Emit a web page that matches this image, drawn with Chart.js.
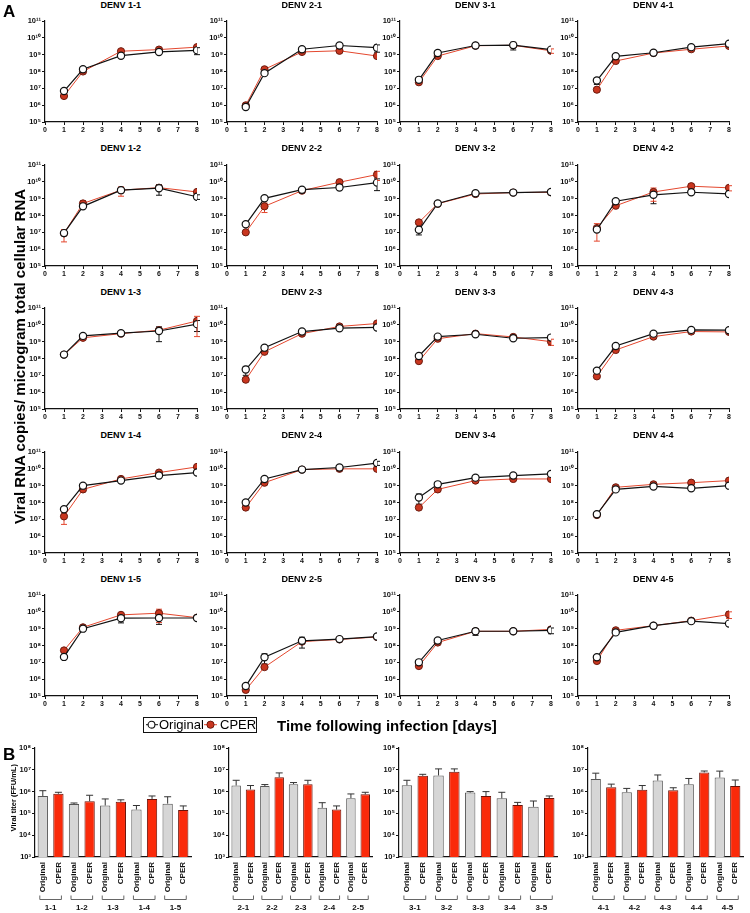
<!DOCTYPE html>
<html><head><meta charset="utf-8">
<script src="https://cdn.jsdelivr.net/npm/chart.js@4.4.1/dist/chart.umd.min.js"></script>
<style>
html,body{margin:0;padding:0;background:#fff;}
body{width:750px;height:913px;position:relative;overflow:hidden;font-family:'Liberation Sans',Arial,sans-serif;color:#000;}
canvas{position:absolute;}
.t{position:absolute;font-weight:bold;white-space:nowrap;line-height:1;}
</style></head><body>
<script>
// ---------- DATA ----------
const days = [1, 2, 4, 6, 8];
const rnaTicks = [1e5, 1e6, 1e7, 1e8, 1e9, 1e10, 1e11];
const rnaTickLabels = ['10⁵', '10⁶', '10⁷', '10⁸', '10⁹', '10¹⁰', '10¹¹'];
const titerTicks = [1e3, 1e4, 1e5, 1e6, 1e7, 1e8];
const titerTickLabels = ['10³', '10⁴', '10⁵', '10⁶', '10⁷', '10⁸'];
const seriesNames = ['Original', 'CPER'];

// Panel A: viral RNA copies (mean) and SD per day
const d11_orig = [6.9e6, 1.35e8, 8.7e8, 1.45e9, 1.8e9], d11_origSD = [0, 0, 0, 0, 8e8];
const d11_cper = [3.5e6, 1.0e8, 1.6e9, 2.0e9, 2.8e9],   d11_cperSD = [0, 0, 0, 0, 0];
const d21_orig = [7.8e5, 8e7, 2.1e9, 3.5e9, 2.6e9],      d21_origSD = [0, 0, 0, 0, 1.2e9];
const d21_cper = [9.8e5, 1.35e8, 1.45e9, 1.7e9, 8.3e8],  d21_cperSD = [0, 0, 0, 0, 0];
const d31_orig = [3.2e7, 1.25e9, 3.5e9, 3.7e9, 2e9],     d31_origSD = [0, 5e8, 0, 1.8e9, 0];
const d31_cper = [2.3e7, 8.3e8, 3.4e9, 3.6e9, 1.7e9],    d31_cperSD = [0, 0, 0, 0, 5e8];
const d41_orig = [2.9e7, 8e8, 1.3e9, 2.8e9, 4.5e9],      d41_origSD = [1.2e7, 0, 0, 0, 0];
const d41_cper = [8.3e6, 4.2e8, 1.25e9, 2.1e9, 3.3e9],   d41_cperSD = [2e6, 0, 0, 0, 0];

const d12_orig = [9e6, 3.5e8, 3.2e9, 4.2e9, 1.3e9],      d12_origSD = [0, 0, 0, 2.6e9, 4e8];
const d12_cper = [8.7e6, 5.2e8, 3.2e9, 4.5e9, 2.5e9],    d12_cperSD = [6e6, 2.5e8, 1.8e9, 0, 0];
const d22_orig = [3e7, 1.05e9, 3.4e9, 4.6e9, 9e9],       d22_origSD = [0, 0, 0, 0, 6e9];
const d22_cper = [1e7, 3.5e8, 3e9, 9.5e9, 2.7e10],       d22_cperSD = [0, 2e8, 0, 0, 1.5e10];
const d32_orig = [1.4e7, 5.2e8, 2.1e9, 2.3e9, 2.5e9],    d32_origSD = [7e6, 0, 0, 0, 0];
const d32_cper = [3.9e7, 5e8, 1.9e9, 2.3e9, 2.4e9],      d32_cperSD = [0, 0, 0, 0, 0];
const d42_orig = [1.45e7, 7e8, 1.7e9, 2.4e9, 1.9e9],     d42_origSD = [0, 0, 1.2e9, 0, 0];
const d42_cper = [1.8e7, 3.8e8, 2.5e9, 5.5e9, 4.4e9],    d42_cperSD = [1.5e7, 0, 1.8e9, 2e9, 1.5e9];

const d13_orig = [1.7e8, 2.2e9, 3.2e9, 4.3e9, 1.1e10],   d13_origSD = [0, 0, 0, 3.3e9, 7e9];
const d13_cper = [1.7e8, 1.7e9, 3e9, 4.8e9, 1.7e10],     d13_cperSD = [0, 0, 0, 0, 1.5e10];
const d23_orig = [2.2e7, 4.4e8, 4e9, 6.3e9, 7e9],        d23_origSD = [1.2e7, 0, 0, 0, 0];
const d23_cper = [5.5e6, 2.5e8, 3e9, 8e9, 1.2e10],       d23_cperSD = [0, 0, 0, 0, 0];
const d33_orig = [1.4e8, 2e9, 2.75e9, 1.6e9, 1.75e9],    d33_origSD = [0, 0, 0, 0, 0];
const d33_cper = [7e7, 1.5e9, 3e9, 1.9e9, 1e9],          d33_cperSD = [0, 0, 0, 0, 4e8];
const d43_orig = [1.9e7, 5.5e8, 3e9, 5e9, 4.8e9],        d43_origSD = [5e6, 0, 0, 0, 0];
const d43_cper = [8.7e6, 3.2e8, 2e9, 4e9, 3.8e9],        d43_cperSD = [0, 0, 0, 0, 0];

const d14_orig = [4e7, 1e9, 2e9, 4e9, 6e9],              d14_origSD = [0, 0, 0, 0, 0];
const d14_cper = [1.5e7, 6e8, 2.5e9, 6e9, 1.3e10],       d14_cperSD = [1e7, 0, 0, 0, 0];
const d24_orig = [1e8, 2.5e9, 9e9, 1.2e10, 2.2e10],      d24_origSD = [0, 0, 0, 4e9, 6e9];
const d24_cper = [5e7, 1.5e9, 9e9, 1e10, 1e10],          d24_cperSD = [0, 0, 0, 0, 0];
const d34_orig = [2e8, 1.2e9, 3e9, 4e9, 5e9],            d34_origSD = [1.2e8, 0, 0, 0, 0];
const d34_cper = [5e7, 6e8, 2e9, 2.5e9, 2.5e9],          d34_cperSD = [0, 0, 0, 0, 0];
const d44_orig = [2e7, 6e8, 9e8, 7e8, 1e9],              d44_origSD = [0, 0, 0, 0, 0];
const d44_cper = [1.8e7, 8e8, 1.2e9, 1.5e9, 2e9],        d44_cperSD = [0, 0, 0, 0, 0];

const d15_orig = [2.1e7, 1e9, 4.2e9, 4.3e9, 4.3e9],      d15_origSD = [0, 0, 2e9, 2.5e9, 0];
const d15_cper = [5.1e7, 1.2e9, 6.6e9, 8.3e9, 4.5e9],    d15_cperSD = [0, 0, 0, 6e9, 0];
const d25_orig = [3.9e5, 2e7, 1.9e8, 2.4e8, 3.4e8],      d25_origSD = [1e5, 1.2e7, 1.2e8, 0, 0];
const d25_cper = [2.3e5, 5.2e6, 1.7e8, 2.3e8, 3.2e8],    d25_cperSD = [0, 0, 0, 0, 0];
const d35_orig = [1e7, 2e8, 7e8, 7e8, 8e8],              d35_origSD = [0, 0, 3e8, 0, 3e8];
const d35_cper = [6e6, 1.5e8, 7e8, 7e8, 9e8],            d35_cperSD = [0, 0, 0, 0, 0];
const d45_orig = [2e7, 6e8, 1.5e9, 2.8e9, 2e9],          d45_origSD = [0, 0, 0, 0, 0];
const d45_cper = [1.2e7, 8e8, 1.5e9, 3e9, 7e9],          d45_cperSD = [0, 0, 0, 0, 3e9];

// Panel B: viral titer (FFU/mL), mean and SD
const titer1_groups = ['1-1', '1-2', '1-3', '1-4', '1-5'];
const titer1_orig = [6.3e5, 2.7e5, 2.3e5, 1.5e5, 2.8e5], titer1_origSD = [4.7e5, 3e4, 2.3e5, 8e4, 3e5];
const titer1_cper = [8e5, 3.6e5, 3.4e5, 4.6e5, 1.45e5],  titer1_cperSD = [1.3e5, 3.2e5, 8e4, 1.7e5, 7.5e4];
const titer2_groups = ['2-1', '2-2', '2-3', '2-4', '2-5'];
const titer2_orig = [1.9e6, 1.8e6, 2.2e6, 1.8e5, 5e5],   titer2_origSD = [1.4e6, 3e5, 4e5, 1.3e5, 2.8e5];
const titer2_cper = [1.25e6, 4.6e6, 2.2e6, 1.5e5, 7.5e5], titer2_cperSD = [6.5e5, 2.6e6, 1.1e6, 7e4, 1.8e5];
const titer3_groups = ['3-1', '3-2', '3-3', '3-4', '3-5'];
const titer3_orig = [1.95e6, 5.5e6, 9e5, 4.9e5, 2e5],    titer3_origSD = [1.35e6, 5.5e6, 1e5, 4.4e5, 1.7e5];
const titer3_cper = [5.3e6, 8.1e6, 6.3e5, 2.4e5, 5.1e5], titer3_cperSD = [9e5, 2.9e6, 3.7e5, 8e4, 1.2e5];
const titer4_groups = ['4-1', '4-2', '4-3', '4-4', '4-5'];
const titer4_orig = [3.8e6, 9.4e5, 3.2e6, 2.2e6, 4.4e6], titer4_origSD = [3.2e6, 4.6e5, 2.6e6, 1.8e6, 4.3e6];
const titer4_cper = [1.6e6, 1.2e6, 1.15e6, 7.6e6, 1.8e6], titer4_cperSD = [6e5, 7e5, 3.5e5, 1.2e6, 1.6e6];

// ---------- TABLES BUILT FROM THE ARRAYS ----------
const linePanels = [
  [d11_orig, d11_origSD, d11_cper, d11_cperSD, 'DENV 1-1'], [d21_orig, d21_origSD, d21_cper, d21_cperSD, 'DENV 2-1'],
  [d31_orig, d31_origSD, d31_cper, d31_cperSD, 'DENV 3-1'], [d41_orig, d41_origSD, d41_cper, d41_cperSD, 'DENV 4-1'],
  [d12_orig, d12_origSD, d12_cper, d12_cperSD, 'DENV 1-2'], [d22_orig, d22_origSD, d22_cper, d22_cperSD, 'DENV 2-2'],
  [d32_orig, d32_origSD, d32_cper, d32_cperSD, 'DENV 3-2'], [d42_orig, d42_origSD, d42_cper, d42_cperSD, 'DENV 4-2'],
  [d13_orig, d13_origSD, d13_cper, d13_cperSD, 'DENV 1-3'], [d23_orig, d23_origSD, d23_cper, d23_cperSD, 'DENV 2-3'],
  [d33_orig, d33_origSD, d33_cper, d33_cperSD, 'DENV 3-3'], [d43_orig, d43_origSD, d43_cper, d43_cperSD, 'DENV 4-3'],
  [d14_orig, d14_origSD, d14_cper, d14_cperSD, 'DENV 1-4'], [d24_orig, d24_origSD, d24_cper, d24_cperSD, 'DENV 2-4'],
  [d34_orig, d34_origSD, d34_cper, d34_cperSD, 'DENV 3-4'], [d44_orig, d44_origSD, d44_cper, d44_cperSD, 'DENV 4-4'],
  [d15_orig, d15_origSD, d15_cper, d15_cperSD, 'DENV 1-5'], [d25_orig, d25_origSD, d25_cper, d25_cperSD, 'DENV 2-5'],
  [d35_orig, d35_origSD, d35_cper, d35_cperSD, 'DENV 3-5'], [d45_orig, d45_origSD, d45_cper, d45_cperSD, 'DENV 4-5']
];
const barPanels = [
  [titer1_groups, titer1_orig, titer1_origSD, titer1_cper, titer1_cperSD],
  [titer2_groups, titer2_orig, titer2_origSD, titer2_cper, titer2_cperSD],
  [titer3_groups, titer3_orig, titer3_origSD, titer3_cper, titer3_cperSD],
  [titer4_groups, titer4_orig, titer4_origSD, titer4_cper, titer4_cperSD]
];

// ---------- LAYOUT ----------
const FONT = "'Liberation Sans', Arial, sans-serif";
Chart.defaults.font.family = FONT;
Chart.defaults.color = '#111';
const colL = [45, 227, 400, 578], colR = [197, 377, 551, 729];
const rowT0 = 21, rowPitch = 143.5, plotH = 101;
const barL = [35, 229, 399, 588], barR = [195, 377, 561, 747];
const barT = 748, barB = 857;

function addText(txt, x, y, size, opts = {}) {
  const d = document.createElement('div');
  d.className = 't';
  d.textContent = txt;
  d.style.fontSize = size + 'px';
  if (opts.normal) d.style.fontWeight = 'normal';
  document.body.appendChild(d);
  const w = d.offsetWidth, h = d.offsetHeight;
  d.style.left = (x - w / 2) + 'px';
  d.style.top = (y - h / 2) + 'px';
  if (opts.rot) d.style.transform = 'rotate(-90deg)';
  return d;
}

const lineErr = {
  id: 'lineErr',
  beforeDatasetsDraw(chart) {
    const ctx = chart.ctx, y = chart.scales.y;
    chart.data.datasets.forEach((ds, di) => {
      const meta = chart.getDatasetMeta(di);
      ctx.save();
      ctx.strokeStyle = ds.errColor;
      ctx.lineWidth = 1;
      ds.sd.forEach((s, i) => {
        if (!s) return;
        const v = ds.data[i].y, px = meta.data[i].x;
        const top = y.getPixelForValue(v + s);
        const lowV = v - s;
        const bot = y.getPixelForValue(lowV > y.min ? lowV : y.min);
        ctx.beginPath();
        ctx.moveTo(px, top); ctx.lineTo(px, bot);
        ctx.moveTo(px - 3, top); ctx.lineTo(px + 3, top);
        if (lowV > y.min) { ctx.moveTo(px - 3, bot); ctx.lineTo(px + 3, bot); }
        ctx.stroke();
      });
      ctx.restore();
    });
  }
};

function makeLine(p, L, T, R, B) {
  const padL = 40, padT = 8, padR = 8, axH = 18;
  const w = Math.round(R - L + padL + padR), h = Math.round(B - T + padT + axH);
  const cv = document.createElement('canvas');
  cv.width = w; cv.height = h;
  cv.style.left = (L - padL) + 'px'; cv.style.top = (T - padT) + 'px';
  cv.style.width = w + 'px'; cv.style.height = h + 'px';
  document.body.appendChild(cv);
  const axisCommon = {
    grid: { drawOnChartArea: false, drawTicks: true, tickLength: 3, color: '#111', lineWidth: 1 },
    border: { color: '#111', width: 1.2 }
  };
  new Chart(cv, {
    type: 'line',
    data: {
      datasets: [
        { label: seriesNames[0], data: days.map((d, i) => ({ x: d, y: p[0][i] })), sd: p[1], errColor: '#111',
          borderColor: '#111', borderWidth: 1.2, pointBackgroundColor: '#fff', pointBorderColor: '#111',
          pointBorderWidth: 1.2, pointRadius: 3.6, tension: 0 },
        { label: seriesNames[1], data: days.map((d, i) => ({ x: d, y: p[2][i] })), sd: p[3], errColor: '#e4472e',
          borderColor: '#e4472e', borderWidth: 1, pointBackgroundColor: '#c9361f', pointBorderColor: '#6b1a0e',
          pointBorderWidth: 1, pointRadius: 3.6, tension: 0 }
      ]
    },
    options: {
      responsive: false, animation: false, devicePixelRatio: 1,
      layout: { padding: { left: 0, top: padT, right: padR, bottom: 0 } },
      plugins: { legend: { display: false }, tooltip: { enabled: false }, title: { display: false } },
      scales: {
        x: Object.assign({
          type: 'linear', min: 0, max: 8,
          ticks: { stepSize: 1, font: { size: 7, weight: 'bold' }, color: '#111', padding: 1, autoSkip: false, maxRotation: 0 },
          afterFit(s) { s.height = axH; }
        }, axisCommon),
        y: Object.assign({
          type: 'logarithmic', min: rnaTicks[0], max: rnaTicks[rnaTicks.length - 1],
          afterBuildTicks(s) { s.ticks = rnaTicks.map(v => ({ value: v })); },
          ticks: { callback: (v, i) => rnaTickLabels[i], font: { size: 7.5, weight: 'bold' }, color: '#111', padding: 1, autoSkip: false },
          afterFit(s) { s.width = padL; }
        }, axisCommon)
      }
    },
    plugins: [lineErr]
  });
  addText(p[4], (L + R) / 2, T - 16, 9);
}

const barExtras = {
  id: 'barExtras',
  afterDatasetsDraw(chart) {
    const ctx = chart.ctx, y = chart.scales.y, meta = chart.getDatasetMeta(0);
    const ds = chart.data.datasets[0];
    ctx.save();
    ctx.strokeStyle = '#333'; ctx.lineWidth = 1;
    ds.data.forEach((v, i) => {
      const s = ds.sd[i];
      if (!s) return;
      const px = meta.data[i].x, top = y.getPixelForValue(v + s), b = y.getPixelForValue(v);
      ctx.beginPath();
      ctx.moveTo(px, b); ctx.lineTo(px, top);
      ctx.moveTo(px - 3.5, top); ctx.lineTo(px + 3.5, top);
      ctx.stroke();
    });
    // brackets and group labels
    const base = chart.chartArea.bottom;
    ctx.strokeStyle = '#666'; ctx.lineWidth = 1;
    ctx.fillStyle = '#111';
    ctx.font = 'bold 8px ' + FONT;
    ctx.textAlign = 'center'; ctx.textBaseline = 'middle';
    ds.groups.forEach((g, k) => {
      const x1 = meta.data[2 * k].x - 3, x2 = meta.data[2 * k + 1].x + 3;
      const yb = base + 42.5;
      ctx.beginPath();
      ctx.moveTo(x1, yb - 4); ctx.lineTo(x1, yb); ctx.lineTo(x2, yb); ctx.lineTo(x2, yb - 4);
      ctx.stroke();
      ctx.fillText(g, (x1 + x2) / 2, base + 51);
    });
    ctx.restore();
  }
};

function makeBar(b, L, T, R, B) {
  const padL = 28, padT = 8, padR = 3, axH = 56;
  const w = Math.round(R - L + padL + padR), h = Math.round(B - T + padT + axH);
  const cv = document.createElement('canvas');
  cv.width = w; cv.height = h;
  cv.style.left = (L - padL) + 'px'; cv.style.top = (T - padT) + 'px';
  cv.style.width = w + 'px'; cv.style.height = h + 'px';
  document.body.appendChild(cv);
  const labels = [], values = [], sds = [], fills = [], borders = [];
  b[0].forEach((g, k) => {
    labels.push(seriesNames[0], seriesNames[1]);
    values.push(b[1][k], b[3][k]);
    sds.push(b[2][k], b[4][k]);
    fills.push('#d6d6d6', '#fa2a0a');
    borders.push('#555', '#6a1208');
  });
  new Chart(cv, {
    type: 'bar',
    data: {
      labels: labels,
      datasets: [{ data: values, sd: sds, groups: b[0], backgroundColor: fills, borderColor: borders,
        borderWidth: 1, borderSkipped: 'bottom', barPercentage: 0.66, categoryPercentage: 1 }]
    },
    options: {
      responsive: false, animation: false, devicePixelRatio: 1,
      layout: { padding: { left: 0, top: padT, right: padR, bottom: 0 } },
      plugins: { legend: { display: false }, tooltip: { enabled: false } },
      scales: {
        x: {
          type: 'category',
          ticks: { font: { size: 8, weight: 'bold' }, color: '#111', padding: 5, autoSkip: false, maxRotation: 90, minRotation: 90 },
          grid: { display: true, drawOnChartArea: false, drawTicks: false, color: '#111' },
          border: { color: '#111', width: 1.2 },
          afterFit(s) { s.height = axH; }
        },
        y: {
          type: 'logarithmic', min: titerTicks[0], max: titerTicks[titerTicks.length - 1],
          afterBuildTicks(s) { s.ticks = titerTicks.map(v => ({ value: v })); },
          ticks: { callback: (v, i) => titerTickLabels[i], font: { size: 7.5, weight: 'bold' }, color: '#111', padding: 1, autoSkip: false },
          grid: { drawOnChartArea: false, drawTicks: true, tickLength: 3, color: '#111' },
          border: { color: '#111', width: 1.2 },
          afterFit(s) { s.width = padL; }
        }
      }
    },
    plugins: [barExtras]
  });
}

linePanels.forEach((p, idx) => {
  const r = Math.floor(idx / 4), c = idx % 4;
  const T = rowT0 + r * rowPitch;
  makeLine(p, colL[c], T, colR[c], T + plotH);
});
barPanels.forEach((b, k) => makeBar(b, barL[k], barT, barR[k], barB));

// ---------- TEXT ----------
addText('A', 9, 11, 17);
addText('B', 9, 754, 17);
addText('Viral RNA copies/ microgram total cellular RNA', 19, 356, 15, { rot: true });
addText('Time following infection [days]', 387, 725, 15);
addText('Viral titer (FFU/mL)', 13, 798, 7.5, { rot: true });

// legend
const lg = document.createElement('div');
lg.style.cssText = 'position:absolute;left:143px;top:717px;width:114px;height:16px;border:1.3px solid #111;box-sizing:border-box;';
document.body.appendChild(lg);
const ff = FONT.replace(/'/g, '');
lg.innerHTML =
  '<svg width="14" height="14" style="position:absolute;left:1px;top:0px"><line x1="1" y1="6.7" x2="13" y2="6.7" stroke="#111" stroke-width="1"/><circle cx="6.5" cy="6.7" r="3.4" fill="#fff" stroke="#111" stroke-width="1.1"/></svg>' +
  '<span style="position:absolute;left:15px;top:0px;font-size:13px;line-height:13px;font-family:' + ff + '">' + seriesNames[0] + '</span>' +
  '<svg width="14" height="14" style="position:absolute;left:60px;top:0px"><line x1="0" y1="6.7" x2="13" y2="6.7" stroke="#e4472e" stroke-width="1"/><circle cx="6.5" cy="6.7" r="3.6" fill="#c9361f" stroke="#6b1a0e" stroke-width="1"/></svg>' +
  '<span style="position:absolute;left:76px;top:0px;font-size:13px;line-height:13px;font-family:' + ff + '">' + seriesNames[1] + '</span>';
</script>
</body></html>
